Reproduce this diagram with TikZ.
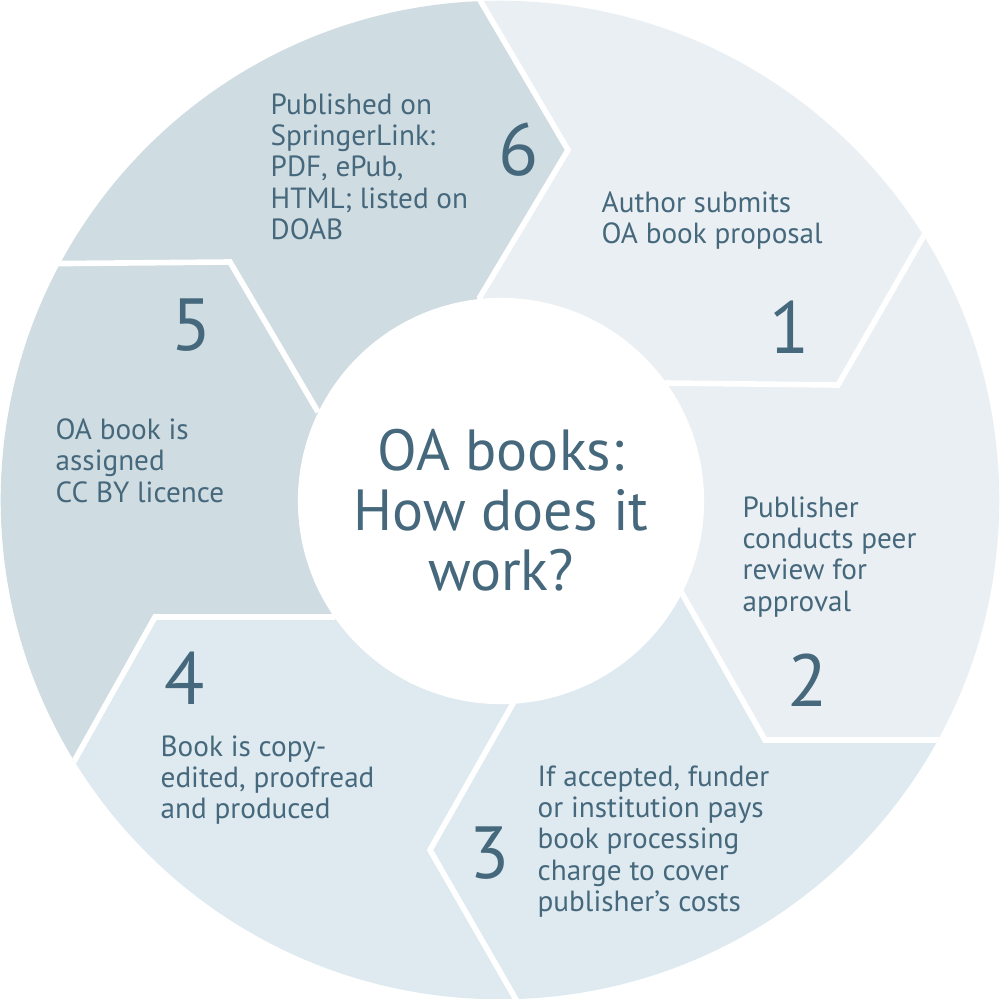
\documentclass[tikz,border=0pt]{standalone}
\usepackage{fontspec}
\setmainfont{PT Sans}
\begin{document}
\begin{tikzpicture}[x=0.01cm,y=-0.01cm,
  txt/.style={anchor=north west,inner sep=0pt,align=left,text=tc,font=\fontsize{8.3pt}{8.9pt}\selectfont},
  num/.style={inner sep=0pt,text=tc,font=\fontsize{21pt}{21pt}\selectfont},
  sep/.style={white,line width=1.6pt,line join=miter}]
\definecolor{tc}{HTML}{46687C}
\definecolor{ca}{HTML}{E9EFF3}
\definecolor{cb}{HTML}{DEEAF0}
\definecolor{cc}{HTML}{CFDCE1}
\useasboundingbox (0,0) rectangle (999,999);
\begin{scope}
\clip (500,500) circle [radius=4.99cm];
\fill[ca] (450,-51)--(568,150)--(480,297)--(500,500)--(665,383)--(838,385)--(922,237)--(980,138)--(1100,-100)--cycle;
\fill[ca] (980,138)--(922,237)--(838,385)--(665,383)--(500,500)--(680,590)--(765,740)--(937,740)--(1100,740)--(1100,100)--cycle;
\fill[cb] (500,500)--(680,590)--(765,740)--(937,740)--(1100,740)--(1100,1100)--(545,1050)--(515,997)--(430,850)--(515,700)--cycle;
\fill[cb] (500,500)--(515,700)--(430,850)--(515,997)--(545,1050)--(-100,1100)--(40,822)--(75,760)--(155,617)--(335,617)--cycle;
\fill[cc] (500,500)--(335,617)--(155,617)--(75,760)--(40,822)--(-100,822)--(-100,265)--(62,265)--(230,262)--(318,412)--cycle;
\fill[cc] (500,500)--(318,412)--(230,262)--(62,265)--(-100,265)--(-100,-100)--(450,-51)--(480,0)--(568,150)--(480,297)--cycle;
\draw[sep] (450,-51)--(568,150)--(480,297)--(500,500);
\draw[sep] (980,138)--(838,385)--(665,383);
\draw[sep] (1100,740)--(765,740)--(680,590);
\draw[sep] (545,1050)--(430,850)--(515,700);
\draw[sep] (40,822)--(155,617)--(335,617);
\draw[sep] (-100,265)--(230,262)--(318,412);
\end{scope}
\fill[white] (501,501) circle [radius=2.03cm];
\node[align=center,text=tc,inner sep=0pt,font=\fontsize{16.5pt}{17pt}\selectfont] (ct) at (501,510) {OA books:\\How does it\\work?};
\node[txt] (t6) at (270,93) {Published on\\SpringerLink:\\PDF, ePub,\\HTML; listed on\\DOAB};
\node[num] (n6) at (519,150) {6};
\node[txt] (t1) at (601,191) {Author submits\\OA book proposal};
\node[num] (n1) at (790,327) {1};
\node[txt] (t2) at (742,496) {Publisher\\conducts peer\\review for\\approval};
\node[num] (n2) at (808,680) {2};
\node[txt] (t3) at (537,765) {If accepted, funder\\or institution pays\\book processing\\charge to cover\\publisher’s costs};
\node[num] (n3) at (490,853) {3};
\node[txt] (t4) at (160,735) {Book is copy-\\edited, proofread\\and produced};
\node[num] (n4) at (185,678) {4};
\node[txt] (t5) at (55,418) {OA book is\\assigned\\CC BY licence};
\node[num] (n5) at (192,325) {5};
\end{tikzpicture}
\end{document}
